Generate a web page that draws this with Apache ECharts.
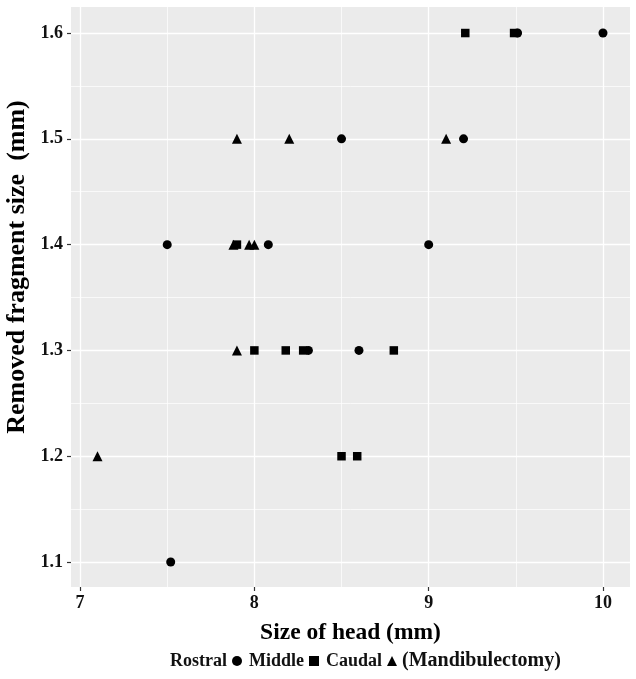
<!DOCTYPE html>
<html><head><meta charset="utf-8">
<script src="https://cdn.jsdelivr.net/npm/echarts@6/dist/echarts.min.js"></script>
<style>html,body{margin:0;padding:0;background:#fff}#c{width:636px;height:679px}</style>
</head><body><div id="c"></div>
<script>
// ---- data ----
const rostralX = [10.0, 9.51, 8.5, 9.2, 7.5, 8.08, 9.0, 8.31, 8.6, 7.52];
const rostralY = [1.6, 1.6, 1.5, 1.5, 1.4, 1.4, 1.4, 1.3, 1.3, 1.1];
const middleX = [9.21, 9.49, 7.9, 8.0, 8.18, 8.28, 8.8, 8.5, 8.59];
const middleY = [1.6, 1.6, 1.4, 1.3, 1.3, 1.3, 1.3, 1.2, 1.2];
const caudalX = [7.9, 8.2, 9.1, 7.88, 7.97, 8.0, 7.9, 7.1];
const caudalY = [1.5, 1.5, 1.5, 1.4, 1.4, 1.4, 1.3, 1.2];
const xTicks = [7, 8, 9, 10];
const yTicks = [1.1, 1.2, 1.3, 1.4, 1.5, 1.6];
const xMinor = [7.5, 8.5, 9.5];
const yMinor = [1.15, 1.25, 1.35, 1.45, 1.55];
const xRange = [6.948, 10.155];
const yRange = [1.0764, 1.6246];
const xTitle = 'Size of head (mm)';
const yTitle = 'Removed fragment size  (mm)';
const legendNote = '(Mandibulectomy)';

const FONT = "'Liberation Serif', 'Times New Roman', serif";
const zip = (a, b) => a.map((v, i) => [v, b[i]]);

const chart = echarts.init(document.getElementById('c'), null, {renderer: 'canvas'});
const minorLines = xMinor.map(v => ({xAxis: v})).concat(yMinor.map(v => ({yAxis: v})));

chart.setOption({
  animation: false,
  backgroundColor: '#ffffff',
  grid: {left: 71, right: 6, top: 7, bottom: 92, show: true, backgroundColor: '#EBEBEB', borderWidth: 0},
  xAxis: {
    type: 'value', min: xRange[0], max: xRange[1], minInterval: 1, maxInterval: 1,
    axisLine: {show: false},
    axisTick: {show: true, length: 4, lineStyle: {color: '#333', width: 1.2}, customValues: xTicks},
    axisLabel: {customValues: xTicks, color: '#111', fontFamily: FONT, fontWeight: 'bold', fontSize: 18, margin: 7},
    splitLine: {show: true, lineStyle: {color: '#ffffff', width: 1.3}},
    name: xTitle, nameLocation: 'middle', nameGap: 34,
    nameTextStyle: {color: '#000', fontFamily: FONT, fontWeight: 'bold', fontSize: 23.5}
  },
  yAxis: {
    type: 'value', min: yRange[0], max: yRange[1], minInterval: 0.1, maxInterval: 0.1,
    axisLine: {show: false},
    axisTick: {show: true, length: 4, lineStyle: {color: '#333', width: 1.2}, customValues: yTicks},
    axisLabel: {customValues: yTicks, color: '#111', fontFamily: FONT, fontWeight: 'bold', fontSize: 18, margin: 8,
      formatter: v => v.toFixed(1)},
    splitLine: {show: true, lineStyle: {color: '#ffffff', width: 1.3}}
  },
  legend: {
    data: ['Rostral', 'Middle', 'Caudal'],
    left: 170, top: 652, padding: 0, align: 'right', itemGap: 7, itemWidth: 10, itemHeight: 10,
    textStyle: {color: '#111', fontFamily: FONT, fontWeight: 'bold', fontSize: 18},
    selectedMode: false
  },
  graphic: [
    {type: 'text', left: 402, top: 651, style: {text: legendNote, fill: '#111', font: 'bold 20px ' + FONT}},
    {type: 'text', x: 17, y: 267, rotation: Math.PI / 2,
      style: {text: yTitle, fill: '#000', font: 'bold 26px ' + FONT, align: 'center', verticalAlign: 'middle'}}
  ],
  series: [
    {name: 'Rostral', type: 'scatter', symbol: 'circle', symbolSize: 9, data: zip(rostralX, rostralY),
      itemStyle: {color: '#000', opacity: 1},
      markLine: {silent: true, symbol: 'none', z: 1, label: {show: false}, emphasis: {disabled: true},
        lineStyle: {color: '#ffffff', width: 0.7, type: 'solid', opacity: 1}, data: minorLines}},
    {name: 'Middle', type: 'scatter', symbol: 'rect', symbolSize: 8.5, data: zip(middleX, middleY), itemStyle: {color: '#000', opacity: 1}},
    {name: 'Caudal', type: 'scatter', symbol: 'triangle', symbolSize: 10, data: zip(caudalX, caudalY), itemStyle: {color: '#000', opacity: 1}}
  ]
});
</script></body></html>
